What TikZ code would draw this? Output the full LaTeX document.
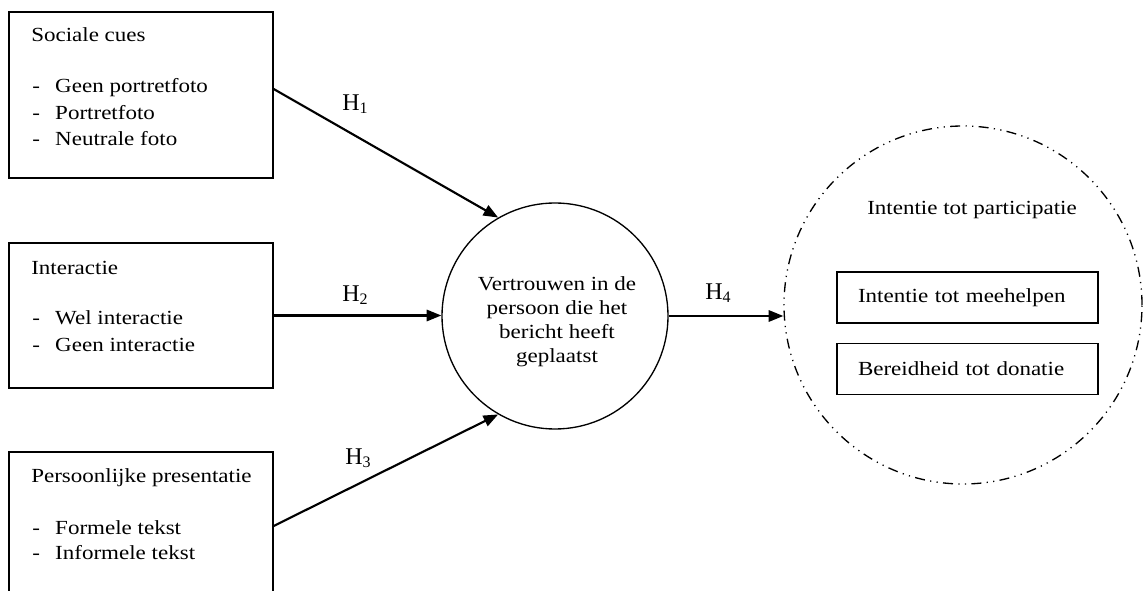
\documentclass[tikz,border=0pt]{standalone}
\usepackage{fontspec}
\setmainfont{Liberation Serif}[FakeStretch=1.15]
\newfontfamily\hfont{Liberation Serif}
\usetikzlibrary{arrows.meta}
\newcommand{\hlab}[1]{{\hfont\fontsize{18}{18}\selectfont H\raisebox{-2pt}{\fontsize{12}{12}\selectfont #1}}}
\begin{document}
\begin{tikzpicture}[x=0.75pt,y=-0.75pt,
  every node/.style={font=\fontsize{15}{19.5}\selectfont, inner sep=0pt},
  bigbox/.style={draw, line width=1pt, rectangle, minimum width=198pt},
  txt/.style={anchor=base west},
  item/.style={anchor=base west},
  hyp/.style={anchor=base west},
  arr/.style={line width=1.6pt, -{Triangle[length=11pt,width=8.5pt]}},
  mid/.style={draw, circle, line width=1pt, minimum size=169.5pt},
  outer/.style={draw, circle, line width=1pt, minimum size=268.5pt,
    dash pattern=on 7.5pt off 4pt on 0.9pt off 4pt on 0.9pt off 4pt},
  inbox/.style={draw, rectangle, line width=1pt, minimum width=195.75pt,
    minimum height=38.25pt, text width=164.25pt, inner xsep=15.75pt, align=left}
]
\useasboundingbox (0,0) rectangle (1143,591);
\newcommand{\dashitem}[1]{\makebox[17.25pt][l]{-}#1}

% left boxes
\node[bigbox, minimum height=124.5pt] (b1) at (141,95) {};
\node[bigbox, minimum height=108.75pt] (b2) at (141,315.5) {};
\node[bigbox, minimum height=111pt] (b3) at (141,526) {};

\node[txt] (t1) at (31,42) {Sociale cues};
\node[item] (t1a) at (32,93) {\dashitem{Geen portretfoto}};
\node[item] (t1b) at (32,119.5) {\dashitem{Portretfoto}};
\node[item] (t1c) at (32,146) {\dashitem{Neutrale foto}};

\node[txt] (t2) at (31,275) {Interactie};
\node[item] (t2a) at (32,325) {\dashitem{Wel interactie}};
\node[item] (t2b) at (32,352) {\dashitem{Geen interactie}};

\node[txt] (t3) at (31,483) {Persoonlijke presentatie};
\node[item] (t3a) at (32,535) {\dashitem{Formele tekst}};
\node[item] (t3b) at (32,560) {\dashitem{Informele tekst}};

% central circle
\node[mid] (c) at (555,316) {};
\node[align=center, font=\fontsize{15}{18}\selectfont] (ct) at (557,322)
  {Vertrouwen in de\\persoon die het\\bericht heeft\\geplaatst};

% outer dash-dot circle
\node[outer] (d) at (963,305) {};
\node[txt] (dt) at (867,215) {Intentie tot participatie};
\node[inbox] (i1) at (967.5,297.5) {Intentie tot meehelpen};
\node[inbox] (i2) at (967.5,369) {Bereidheid tot donatie};

% connectors
\draw[arr] ([yshift=4.5pt]b1.east) -- (c.120);
\draw[arr] (b2.east) -- (b2.east -| c.west);
\draw[arr] (b3.east) -- (c.240);
\draw[arr] (c.east) -- (c.east -| d.west);

% labels
\node[hyp] (h1) at (342,111) {\hlab{1}};
\node[hyp] (h2) at (342,302) {\hlab{2}};
\node[hyp] (h3) at (345,465) {\hlab{3}};
\node[hyp] (h4) at (705,300) {\hlab{4}};
\end{tikzpicture}
\end{document}
